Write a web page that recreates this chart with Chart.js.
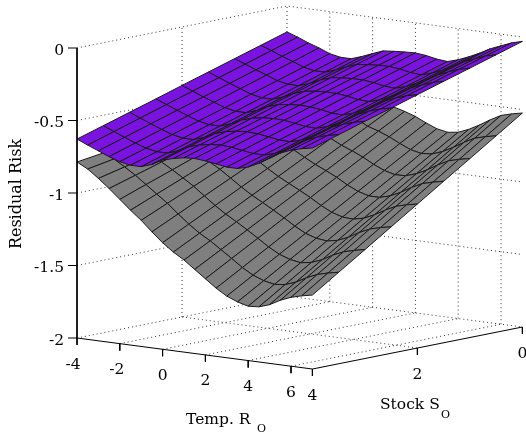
<!DOCTYPE html>
<html>
<head>
<meta charset="utf-8">
<title>Residual Risk surface</title>
<style>
html, body { margin: 0; padding: 0; background: #fff; }
canvas { display: block; }
</style>
<script src="https://cdn.jsdelivr.net/npm/chart.js@4"></script>
</head>
<body>
<canvas id="chart" width="526" height="432"></canvas>
<script>
//Two stacked risk surfaces on a box with dotted back walls. Chart.js has
//no 3D, so each mesh cell is a closed scatter line on hidden pixel scales
//and project() does the fixed orthographic view.

const tempGrid = [-4, -3.5, -3, -2.5, -2, -1.5, -1, -0.5, 0, 0.5, 1, 1.5, 2, 2.5, 3, 3.5, 4, 4.5, 5, 5.5, 6, 6.5, 7];
const stockGrid = [0, 0.5, 1, 1.5, 2, 2.5, 3, 3.5, 4];

const tempTicks = [-4, -2, 0, 2, 4, 6];
const stockTicks = [0, 2, 4];
const riskTicks = [0, -0.5, -1, -1.5, -2];

//one row per stock value, one column per temperature
const upperS00 = [-.179,-.205,-.235,-.26,-.29,-.305,-.305,-.28,-.25,-.222,-.215,-.21,-.207,-.215,-.23,-.237,-.215,-.185,-.15,-.11,-.08,-.05,-.03];
const upperS05 = [-.235,-.262,-.292,-.318,-.347,-.362,-.362,-.337,-.306,-.279,-.271,-.266,-.264,-.272,-.287,-.293,-.271,-.241,-.204,-.164,-.134,-.105,-.086];
const upperS10 = [-.291,-.319,-.349,-.375,-.404,-.419,-.419,-.394,-.361,-.335,-.326,-.321,-.321,-.330,-.344,-.349,-.328,-.296,-.259,-.218,-.188,-.160,-.142];
const upperS15 = [-.347,-.376,-.406,-.433,-.461,-.476,-.476,-.451,-.417,-.392,-.382,-.377,-.378,-.387,-.401,-.405,-.384,-.352,-.313,-.271,-.241,-.215,-.197];
const upperS20 = [-.403,-.433,-.463,-.490,-.518,-.533,-.533,-.508,-.472,-.448,-.438,-.432,-.435,-.444,-.458,-.461,-.440,-.407,-.368,-.325,-.295,-.270,-.253];
const upperS25 = [-.460,-.489,-.519,-.548,-.574,-.589,-.589,-.564,-.528,-.505,-.493,-.488,-.491,-.502,-.514,-.517,-.496,-.463,-.422,-.379,-.349,-.325,-.309];
const upperS30 = [-.516,-.546,-.576,-.605,-.631,-.646,-.646,-.621,-.584,-.562,-.549,-.544,-.548,-.559,-.571,-.573,-.553,-.518,-.476,-.433,-.403,-.380,-.364];
const upperS35 = [-.572,-.603,-.633,-.663,-.688,-.703,-.703,-.678,-.639,-.618,-.604,-.599,-.605,-.616,-.628,-.629,-.609,-.574,-.531,-.486,-.456,-.435,-.420];
const upperS40 = [-.628,-.66,-.69,-.72,-.745,-.76,-.76,-.735,-.695,-.675,-.66,-.655,-.662,-.673,-.685,-.685,-.665,-.63,-.585,-.54,-.51,-.49,-.476];

const lowerS00 = [-.58,-.56,-.53,-.50,-.48,-.47,-.48,-.50,-.53,-.565,-.60,-.62,-.645,-.68,-.71,-.725,-.715,-.685,-.645,-.60,-.56,-.54,-.524];
const lowerS05 = [-.606,-.593,-.574,-.555,-.546,-.545,-.561,-.588,-.622,-.659,-.696,-.720,-.749,-.786,-.818,-.835,-.829,-.802,-.764,-.719,-.681,-.661,-.645];
const lowerS10 = [-.632,-.626,-.618,-.610,-.611,-.620,-.643,-.675,-.714,-.754,-.791,-.820,-.853,-.893,-.926,-.945,-.943,-.919,-.883,-.839,-.801,-.781,-.766];
const lowerS15 = [-.657,-.659,-.661,-.665,-.677,-.695,-.724,-.763,-.806,-.848,-.887,-.920,-.956,-.999,-1.034,-1.055,-1.056,-1.036,-1.001,-.958,-.922,-.902,-.886];
const lowerS20 = [-.683,-.692,-.705,-.720,-.742,-.770,-.805,-.850,-.898,-.943,-.982,-1.020,-1.060,-1.105,-1.142,-1.165,-1.170,-1.153,-1.120,-1.078,-1.042,-1.022,-1.007];
const lowerS25 = [-.709,-.726,-.749,-.775,-.808,-.845,-.887,-.938,-.990,-1.037,-1.078,-1.120,-1.164,-1.211,-1.251,-1.275,-1.284,-1.270,-1.239,-1.197,-1.163,-1.143,-1.128];
const lowerS30 = [-.735,-.759,-.793,-.830,-.874,-.920,-.968,-1.025,-1.081,-1.131,-1.174,-1.220,-1.268,-1.318,-1.359,-1.385,-1.398,-1.386,-1.358,-1.316,-1.284,-1.264,-1.249];
const lowerS35 = [-.760,-.792,-.837,-.885,-.939,-.995,-1.049,-1.113,-1.173,-1.226,-1.269,-1.320,-1.371,-1.424,-1.467,-1.495,-1.511,-1.503,-1.476,-1.436,-1.404,-1.384,-1.369];
const lowerS40 = [-.786,-.825,-.88,-.94,-1.005,-1.07,-1.13,-1.20,-1.265,-1.32,-1.365,-1.42,-1.475,-1.53,-1.575,-1.605,-1.625,-1.62,-1.595,-1.555,-1.525,-1.505,-1.49];

const upperRows = [upperS00, upperS05, upperS10, upperS15, upperS20, upperS25, upperS30, upperS35, upperS40];
const lowerRows = [lowerS00, lowerS05, lowerS10, lowerS15, lowerS20, lowerS25, lowerS30, lowerS35, lowerS40];

const UPPER_COLOR = '#7a12e0';
const LOWER_COLOR = '#7f7f7f';
const SERIF = '"DejaVu Serif", serif';

//view: the front-left floor corner is temp -4, stock 4, risk -2
function project(temp, stock, risk)
{
    return {
        x: 77 + (temp + 4) * 21.4 + (4 - stock) * 52.5,
        y: 338 + (temp + 4) * 2.82 - (4 - stock) * 10.5 - (risk + 2) * 145,
    };
}

function lineSet(points, color, dash)
{
    return {
        data: points,
        showLine: true,
        fill: false,
        borderColor: color,
        borderWidth: 1,
        borderDash: dash || [],
        pointRadius: 0,
        tension: 0,
    };
}

function wallDatasets()
{
    const out = [];
    const DOT = [1, 3];
    const TEMP_MAX = tempGrid[tempGrid.length - 1];
    riskTicks.forEach((r) =>
    {
        out.push(lineSet([project(-4, 4, r), project(-4, 0, r), project(TEMP_MAX, 0, r)], '#333', DOT));
    });
    tempTicks.forEach((t) =>
    {
        out.push(lineSet([project(t, 0, -2), project(t, 0, 0)], '#333', DOT));
        if (t > -4) out.push(lineSet([project(t, 4, -2), project(t, 0, -2)], '#333', DOT));
    });
    out.push(lineSet([project(-4, 2, -2), project(-4, 2, 0)], '#333', DOT));
    out.push(lineSet([project(-4, 2, -2), project(TEMP_MAX, 2, -2)], '#333', DOT));
    return out;
}

//back cells first so nearer ones paint over them
function surfaceDatasets(rows, color)
{
    const out = [];
    for (let s = 0; s < stockGrid.length - 1; s++)
    {
        for (let t = 0; t < tempGrid.length - 1; t++)
        {
            const cell = [
                project(tempGrid[t], stockGrid[s], rows[s][t]),
                project(tempGrid[t + 1], stockGrid[s], rows[s][t + 1]),
                project(tempGrid[t + 1], stockGrid[s + 1], rows[s + 1][t + 1]),
                project(tempGrid[t], stockGrid[s + 1], rows[s + 1][t]),
            ];
            cell.push(cell[0]);
            const ds = lineSet(cell, '#1a1a1a');
            ds.fill = 'shape';
            ds.backgroundColor = color;
            out.push(ds);
        }
    }
    return out;
}

function axisDatasets()
{
    const out = [];
    const TEMP_MAX = tempGrid[tempGrid.length - 1];
    out.push(lineSet([project(-4, 4, 0), project(-4, 4, -2), project(TEMP_MAX, 4, -2), project(TEMP_MAX, 0, -2)], '#000'));
    riskTicks.forEach((r) =>
    {
        const p = project(-4, 4, r);
        out.push(lineSet([p, { x: p.x - 9, y: p.y }], '#000'));
    });
    tempTicks.forEach((t) =>
    {
        const p = project(t, 4, -2);
        out.push(lineSet([p, { x: p.x, y: p.y + 7 }], '#000'));
    });
    stockTicks.forEach((s) =>
    {
        const p = project(TEMP_MAX, s, -2);
        out.push(lineSet([p, { x: p.x, y: p.y + 7 }], '#000'));
    });
    return out;
}

//tick and axis text sits on the projected tick positions
const boxLabels = {
    id: 'box-labels',
    afterDatasetsDraw(chart)
    {
        const ctx = chart.ctx;
        const TEMP_MAX = tempGrid[tempGrid.length - 1];
        ctx.save();
        ctx.fillStyle = '#000';
        ctx.font = '15.5px ' + SERIF;
        ctx.textBaseline = 'middle';

        ctx.textAlign = 'right';
        riskTicks.forEach((r) =>
        {
            const p = project(-4, 4, r);
            ctx.fillText(String(r), p.x - 13, p.y + 2.5);
        });

        ctx.textAlign = 'center';
        tempTicks.forEach((t) =>
        {
            const p = project(t, 4, -2);
            ctx.fillText(String(t), p.x - (t === -4 ? 4 : t === -2 ? 3 : 0), p.y + 26.5);
        });
        stockTicks.forEach((s) =>
        {
            const p = project(TEMP_MAX, s, -2);
            ctx.fillText(String(s), p.x, p.y + 26.5);
        });

        ctx.textAlign = 'left';
        ctx.textBaseline = 'alphabetic';
        ctx.fillText('Temp. R', 186, 424);
        ctx.fillText('Stock S', 380, 409);
        ctx.font = '11px ' + SERIF;
        ctx.fillText('O', 257, 432);
        ctx.fillText('O', 441, 418);

        ctx.font = '16px ' + SERIF;
        ctx.translate(21, 194);
        ctx.rotate(-Math.PI / 2);
        ctx.textAlign = 'center';
        ctx.fillText('Residual Risk', 0, 0);
        ctx.restore();
    },
};

//painting order: walls, lower mesh, upper mesh, axes. Chart.js paints the
//last dataset first, so the list is reversed at the end.
const paintOrder = wallDatasets()
    .concat(surfaceDatasets(lowerRows, LOWER_COLOR))
    .concat(surfaceDatasets(upperRows, UPPER_COLOR))
    .concat(axisDatasets());

new Chart(document.getElementById('chart'), {
    type: 'scatter',
    data: { datasets: paintOrder.reverse() },
    options: {
        responsive: false,
        animation: false,
        layout: { padding: 0 },
        plugins: { legend: { display: false }, tooltip: { enabled: false } },
        scales: {
            x: { type: 'linear', min: 0, max: 526, display: false },
            y: { type: 'linear', min: 0, max: 432, reverse: true, display: false },
        },
    },
    plugins: [boxLabels],
});
</script>
</body>
</html>
